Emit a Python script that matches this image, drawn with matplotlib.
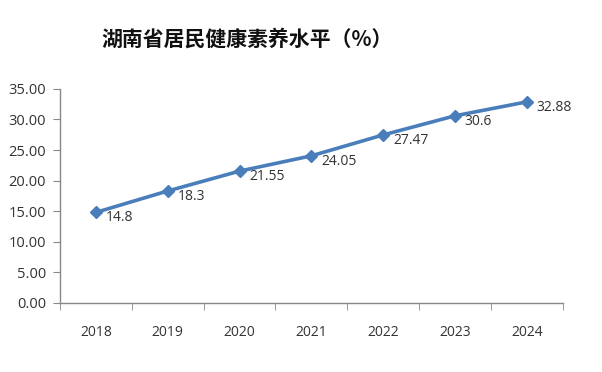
import matplotlib
matplotlib.use('Agg')
import matplotlib.pyplot as plt
import numpy as np

plt.rcParams['font.family'] = ['Noto Sans CJK SC', 'DejaVu Sans']

years = ['2018', '2019', '2020', '2021', '2022', '2023', '2024']
levels = [14.8, 18.3, 21.55, 24.05, 27.47, 30.6, 32.88]
point_labels = ['14.8', '18.3', '21.55', '24.05', '27.47', '30.6', '32.88']
yticks = [0, 5, 10, 15, 20, 25, 30, 35]

fig = plt.figure(figsize=(6.02, 3.72), dpi=100)
ax = fig.add_axes([0.0997, 0.186, 0.835, 0.575])

x = np.arange(len(years))
ax.plot(x, levels, color='#4a7ebb', lw=2.6, marker='D', ms=6.5,
        markerfacecolor='#4a7ebb', markeredgecolor='#4a7ebb')

for xi, yi, lab in zip(x, levels, point_labels):
    ax.annotate(lab, (xi, yi), xytext=(7, -4), textcoords='offset points',
                ha='left', va='center', fontsize=10, color='#333333',
                family=['Open Sans', 'DejaVu Sans'])

ax.set_xlim(-0.5, len(years) - 0.5)
ax.set_ylim(0, 35)
ax.set_yticks(yticks)
ax.set_yticklabels([f'{v:.2f}' for v in yticks], family=['Open Sans', 'DejaVu Sans'],
                   fontsize=10.5, color='#333333')
ax.set_xticks(x)
ax.set_xticklabels(years, family=['Open Sans', 'DejaVu Sans'], fontsize=10, color='#333333')
ax.set_xticks(np.arange(-0.5, len(years)), minor=True)
ax.tick_params(axis='x', which='major', length=0, pad=16)
ax.tick_params(axis='x', which='minor', length=5, color='#888888', direction='out')
ax.tick_params(axis='y', length=5, color='#888888', direction='out', pad=5)

for s in ['top', 'right']:
    ax.spines[s].set_visible(False)
for s in ['left', 'bottom']:
    ax.spines[s].set_color('#888888')
    ax.spines[s].set_linewidth(1.0)

fig.text(0.411, 0.895, '湖南省居民健康素养水平（%）', ha='center', va='center',
         fontsize=15, fontweight='bold', color='#111111')

fig.savefig('out.png', dpi=100)
